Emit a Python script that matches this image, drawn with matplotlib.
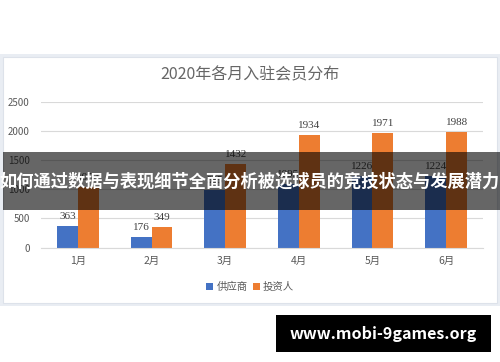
import matplotlib.pyplot as plt
from matplotlib.patches import Rectangle
import numpy as np

plt.rcParams['font.family'] = ['Noto Sans CJK SC', 'DejaVu Sans']

months = ["1月", "2月", "3月", "4月", "5月", "6月"]
supplier = [363, 176, 985, 1095, 1226, 1224]
investor = [1050, 349, 1432, 1934, 1971, 1988]
series_names = ["供应商", "投资人"]
yticks = [0, 500, 1000, 1500, 2000, 2500]

W, H = 500, 362
fig = plt.figure(figsize=(W / 100, H / 100), dpi=100)


def px_rect(x0, y0, x1, y1, **kw):
    # rectangle in pixel coords measured from top-left
    return Rectangle((x0 / W, 1 - y1 / H), (x1 - x0) / W, (y1 - y0) / H,
                     transform=fig.transFigure, **kw)


# page background band + white chart card
fig.add_artist(px_rect(0, 54, 500, 306, facecolor="#e9edf3", edgecolor="none", zorder=-3))
fig.add_artist(px_rect(3, 57, 497, 303, facecolor="white", edgecolor="#dde2ea", lw=0.8, zorder=-2))

ax = fig.add_axes([41 / W, 1 - 247.5 / H, (483 - 41) / W, (247.5 - 102.3) / H])
ax.set_facecolor("none")

x = np.arange(len(months))
bw = 0.285
b1 = ax.bar(x - bw / 2, supplier, bw, color="#4472c4", label=series_names[0], zorder=2)
b2 = ax.bar(x + bw / 2, investor, bw, color="#ed7d31", label=series_names[1], zorder=2)
for bars in (b1, b2):
    for r in bars:
        ax.text(r.get_x() + r.get_width() / 2, r.get_height() + 85, f"{int(r.get_height())}",
                ha="center", va="bottom", fontsize=8, color="#404040",
                family=["Liberation Serif", "DejaVu Serif"])

ax.set_xlim(-0.5, len(months) - 0.5)
ax.set_ylim(0, 2500)
ax.set_yticks(yticks)
ax.set_yticklabels([str(v) for v in yticks], fontsize=7, color="#595959")
ax.set_xticks(x)
ax.set_xticklabels(months, fontsize=7.5, color="#595959")
ax.tick_params(length=0, pad=8)
ax.tick_params(axis="x", pad=6)
ax.grid(axis="y", color="#d9d9d9", lw=0.8, zorder=0)
for s in ["top", "right", "left"]:
    ax.spines[s].set_visible(False)
ax.spines["bottom"].set_color("#d9d9d9")

fig.text(0.5, 1 - 75 / H, "2020年各月入驻会员分布", ha="center", va="center",
         fontsize=11.5, color="#666666", weight="light")

fig.legend(handles=[b1, b2], labels=series_names, loc="center",
           bbox_to_anchor=(0.5, 1 - 287 / H), ncol=2, frameon=False, fontsize=7.5,
           handlelength=0.7, handleheight=0.7, handletextpad=0.3, columnspacing=0.5,
           labelcolor="#595959")

# overlay banner
fig.add_artist(px_rect(3, 152, 500, 210, facecolor="black", alpha=0.6, edgecolor="none", zorder=5))
fig.text(0.5, 1 - 182 / H, "如何通过数据与表现细节全面分析被选球员的竞技状态与发展潜力",
         ha="center", va="center", fontsize=12.4, color="white", weight="bold", zorder=6)

# watermark
fig.add_artist(px_rect(276, 315, 491, 352, facecolor="black", edgecolor="none", zorder=5))
fig.text(383 / W, 1 - 334 / H, "www.mobi-9games.org", ha="center", va="center",
         fontsize=11.6, color="white", weight="bold", zorder=6)

fig.savefig("out.png", dpi=100)
